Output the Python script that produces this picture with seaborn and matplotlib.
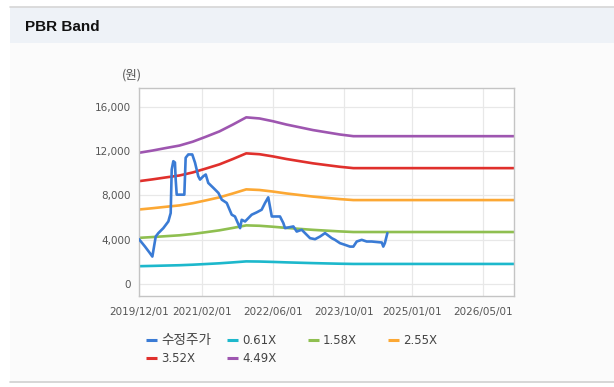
import matplotlib
matplotlib.use("Agg")
import matplotlib.pyplot as plt
import matplotlib.dates as mdates
from matplotlib.patches import Rectangle
from matplotlib.lines import Line2D
from matplotlib.ticker import FuncFormatter
import pandas as pd
import seaborn as sns

# adjusted share price (수정주가)
price_dates = ["2019-12-01", "2020-01-11", "2020-02-14", "2020-03-01", "2020-03-24", "2020-04-11",
               "2020-05-15", "2020-06-18", "2020-07-04", "2020-07-11", "2020-07-22", "2020-08-02",
               "2020-08-07", "2020-08-14", "2020-10-05", "2020-10-14", "2020-11-01", "2020-11-28",
               "2020-12-17", "2021-01-08", "2021-01-20", "2021-02-11", "2021-02-28", "2021-03-17",
               "2021-04-21", "2021-05-25", "2021-06-17", "2021-07-21", "2021-08-24", "2021-09-15",
               "2021-10-20", "2021-10-31", "2021-11-23", "2022-01-07", "2022-02-10", "2022-03-16",
               "2022-04-08", "2022-04-30", "2022-05-24", "2022-07-19", "2022-08-11", "2022-08-22",
               "2022-10-18", "2022-11-10", "2022-12-14", "2023-02-09", "2023-03-15", "2023-04-18",
               "2023-05-22", "2023-07-07", "2023-07-29", "2023-09-01", "2023-10-05", "2023-11-08",
               "2023-12-01", "2023-12-24", "2024-01-27", "2024-03-01", "2024-04-04", "2024-06-12",
               "2024-06-22", "2024-07-03", "2024-07-20"]
price_values = [4050, 3380, 2780, 2480, 4290, 4600,
                5050, 5650, 6410, 10340, 11090, 10970,
                9430, 8070, 8070, 11400, 11700, 11700,
                10950, 9730, 9430, 9730, 9890, 9130,
                8680, 8230, 7620, 7320, 6260, 6100,
                5050, 5800, 5650, 6260, 6470, 6710,
                7320, 7830, 6100, 6100, 5500, 5050,
                5200, 4740, 4900, 4140, 4050, 4290,
                4600, 4140, 3990, 3690, 3540, 3380,
                3380, 3840, 3990, 3840, 3840, 3750,
                3380, 3700, 4600]

# PBR band lines
band_dates = ["2019-12-01", "2020-03-01", "2020-06-01", "2020-09-01", "2020-12-01", "2021-03-01",
              "2021-06-01", "2021-09-01", "2021-12-01", "2022-03-01", "2022-06-01", "2022-09-01",
              "2022-12-01", "2023-03-01", "2023-06-01", "2023-09-01", "2023-12-01", "2026-11-30"]
band_061 = [1610, 1637, 1668, 1698, 1746, 1807, 1872, 1956, 2045, 2031, 1997, 1956,
            1922, 1889, 1861, 1834, 1814, 1814]
band_158 = [4170, 4241, 4321, 4399, 4522, 4680, 4849, 5067, 5296, 5261, 5173, 5067,
            4979, 4892, 4821, 4751, 4697, 4697]
band_255 = [6729, 6844, 6974, 7099, 7298, 7553, 7826, 8178, 8548, 8492, 8349, 8178,
            8035, 7895, 7780, 7668, 7581, 7581]
band_352 = [9289, 9448, 9627, 9800, 10074, 10426, 10803, 11289, 11799, 11722, 11524, 11289,
            11092, 10898, 10740, 10585, 10465, 10465]
band_449 = [11850, 12050, 12280, 12500, 12850, 13300, 13780, 14400, 15050, 14950, 14700, 14400,
            14150, 13900, 13700, 13500, 13350, 13350]

series_names = ["수정주가", "0.61X", "1.58X", "2.55X", "3.52X", "4.49X"]
series_colors = ["#3a7bd5", "#1db8cc", "#8fbf50", "#fca834", "#e0302c", "#9e56b0"]
x_ticks = ["2019-12-01", "2021-02-01", "2022-06-01", "2023-10-01", "2025-01-01", "2026-05-01"]
y_ticks = [0, 4000, 8000, 12000, 16000]

sns.set_theme(style="whitegrid")
plt.rcParams["font.family"] = ["DejaVu Sans", "Noto Sans CJK KR"]

W, H = 614, 387
fig = plt.figure(figsize=(W / 100, H / 100), dpi=100)
fig.patch.set_facecolor("white")

def fx(px):
    return px / W

def fy(py):
    return 1 - py / H

# panel background, header band and borders
fig.add_artist(Rectangle((fx(10), fy(382)), fx(604), (382 - 7) / H, transform=fig.transFigure,
                         facecolor="#fbfbfb", edgecolor="none", zorder=0))
fig.add_artist(Rectangle((fx(10), fy(43)), fx(604), 36 / H, transform=fig.transFigure,
                         facecolor="#eef2f7", edgecolor="none", zorder=0))
fig.add_artist(Line2D([fx(10), 1], [fy(7), fy(7)], transform=fig.transFigure, color="#d6d6d6", lw=1.2))
fig.add_artist(Line2D([fx(10), 1], [fy(381.5), fy(381.5)], transform=fig.transFigure, color="#d0d0d0", lw=1.2))
fig.text(fx(25), fy(27), "PBR Band", fontsize=11, fontweight="bold", color="#111111",
         family="Liberation Sans", va="center", ha="left")

ax = fig.add_axes([fx(139), fy(296), fx(514 - 139), (296 - 88) / H])
ax.set_facecolor("white")

bands = pd.DataFrame({
    "date": pd.to_datetime(band_dates * 5),
    "value": band_061 + band_158 + band_255 + band_352 + band_449,
    "series": sum([[n] * len(band_dates) for n in series_names[1:]], []),
})
price = pd.DataFrame({"date": pd.to_datetime(price_dates), "value": price_values})

sns.lineplot(data=bands, x="date", y="value", hue="series", hue_order=series_names[1:],
             palette=series_colors[1:], linewidth=1.9, legend=False, ax=ax)
sns.lineplot(data=price, x="date", y="value", color=series_colors[0], linewidth=1.9,
             legend=False, ax=ax, zorder=5)

ax.set_xlim(pd.Timestamp("2019-12-01"), pd.Timestamp("2026-11-30"))
ax.set_ylim(-1080, 17700)
ax.set_xticks(pd.to_datetime(x_ticks))
ax.xaxis.set_major_formatter(mdates.DateFormatter("%Y/%m/%d"))
ax.set_yticks(y_ticks)
ax.yaxis.set_major_formatter(FuncFormatter(lambda v, p: f"{int(v):,}"))
ax.set_xlabel("")
ax.set_ylabel("")
ax.grid(True, color="#e8e8e8", linewidth=0.9)
for s in ax.spines.values():
    s.set_color("#c4c4c4")
    s.set_linewidth(1.0)
ax.tick_params(axis="both", which="major", length=4, width=0.8, color="#c4c4c4",
               labelsize=7.5, labelcolor="#555555")
ax.tick_params(axis="x", pad=4)
ax.tick_params(axis="y", pad=2)

fig.text(fx(132), fy(75), "(원)", fontsize=9, color="#555555", family="Noto Sans CJK KR",
         ha="center", va="center")

# legend
legend_pos = [(146, 340), (227, 340), (308, 340), (388, 340), (146, 358), (227, 358)]
for name, color, (lx, ly) in zip(series_names, series_colors, legend_pos):
    fig.add_artist(Line2D([fx(lx), fx(lx + 11)], [fy(ly), fy(ly)], transform=fig.transFigure,
                          color=color, lw=2.2, solid_capstyle="butt"))
    if name == "수정주가":
        fig.text(fx(lx + 15), fy(ly), name, fontsize=9.8, color="#444444",
                 family="Noto Sans CJK KR", va="center", ha="left")
    else:
        fig.text(fx(lx + 15), fy(ly + 0.5), name, fontsize=8.5, color="#444444",
                 va="center", ha="left")

fig.savefig("out.png", dpi=100)
